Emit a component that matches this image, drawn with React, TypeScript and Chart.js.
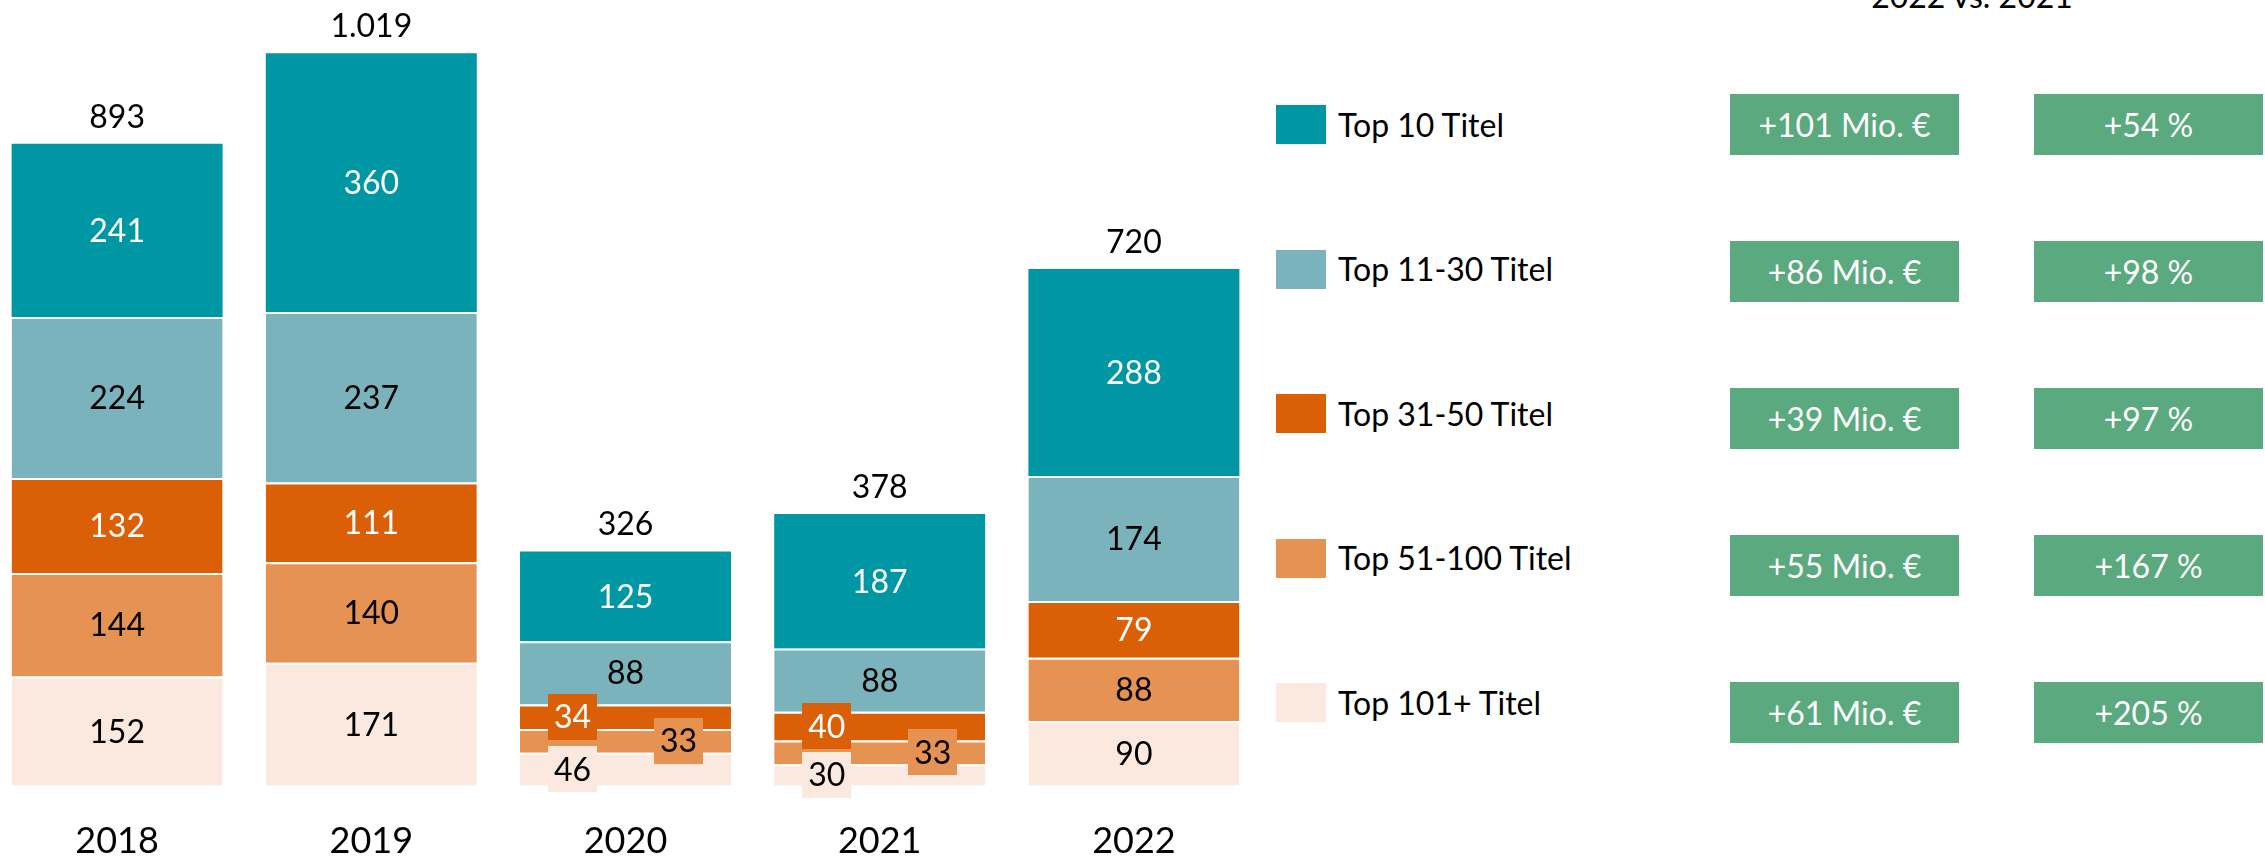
import React, { useEffect, useRef } from "react";
import { Chart, registerables } from "chart.js";

Chart.register(...registerables);

// ---------- data ----------
const years = ["2018", "2019", "2020", "2021", "2022"];
const seriesNames = ["Top 10 Titel", "Top 11-30 Titel", "Top 31-50 Titel", "Top 51-100 Titel", "Top 101+ Titel"];
const top10 = [241, 360, 125, 187, 288];
const top11to30 = [224, 237, 88, 88, 174];
const top31to50 = [132, 111, 34, 40, 79];
const top51to100 = [144, 140, 33, 33, 88];
const top101plus = [152, 171, 46, 30, 90];
const totals = [893, 1019, 326, 378, 720];
const changeTitle = "2022 vs. 2021";
const changeAbs = ["+101 Mio. €", "+86 Mio. €", "+39 Mio. €", "+55 Mio. €", "+61 Mio. €"];
const changePct = ["+54 %", "+98 %", "+97 %", "+167 %", "+205 %"];

// ---------- styles ----------
const seriesValues = [top10, top11to30, top31to50, top51to100, top101plus]; // top-down (legend order)
const COLORS = ["#0097A5", "#7BB3BD", "#DB5F07", "#E69252", "#FBE9DF"];
const LABEL_COLORS = ["#ffffff", "#000000", "#ffffff", "#000000", "#000000"];
const SMALL_SIDE = [0, 0, -1, 1, -1];
const GREEN = "#5BA97E";
const FONT = "Lato, 'Open Sans', sans-serif";
const LEGEND_ROWS = [124.5, 269, 413.5, 558, 702.5];
const BOX_ROWS = [124.5, 271.5, 418.5, 565.5, 712.5];

const formatDE = (n: number) => String(n).replace(/\B(?=(\d{3})+(?!\d))/g, ".");

const labelPlugin = {
  id: "segmentLabels",
  afterDatasetsDraw(chart: any) {
    const ctx = chart.ctx;
    ctx.save();
    ctx.font = `32px ${FONT}`;
    ctx.textAlign = "center";
    ctx.textBaseline = "alphabetic";
    const digitOffset = 0.358 * 32;
    chart.data.datasets.forEach((ds: any, di: number) => {
      const meta = chart.getDatasetMeta(di);
      meta.data.forEach((bar: any, i: number) => {
        const v = ds.data[i];
        const p = bar.getProps(["x", "y", "base"], true);
        const cy = (p.y + p.base) / 2;
        let tx = p.x;
        const txt = String(v);
        if (Math.abs(p.base - p.y) < 40 && ds.smallSide) {
          tx = p.x + ds.smallSide * 53;
          const w = ctx.measureText(txt).width + 12;
          ctx.fillStyle = ds.backgroundColor;
          ctx.fillRect(Math.round(tx - w / 2), Math.round(cy - 23), Math.round(w), 46);
        }
        ctx.fillStyle = ds.labelColor;
        ctx.fillText(txt, tx, cy + digitOffset);
      });
    });
    const lastMeta = chart.getDatasetMeta(chart.data.datasets.length - 1);
    lastMeta.data.forEach((bar: any, i: number) => {
      const p = bar.getProps(["x", "y"], true);
      ctx.fillStyle = "#000";
      ctx.fillText(formatDE(totals[i]), p.x, p.y - 27.5 + digitOffset);
    });
    ctx.restore();
  },
};

function BarChart() {
  const ref = useRef<HTMLCanvasElement | null>(null);
  useEffect(() => {
    if (!ref.current) return;
    const datasets = seriesValues
      .map((vals, k) => ({
        label: seriesNames[k],
        data: vals,
        backgroundColor: COLORS[k],
        borderColor: "#ffffff",
        borderWidth: k === 0 ? 0 : { top: 2, left: 0, right: 0, bottom: 0 },
        borderSkipped: "start",
        labelColor: LABEL_COLORS[k],
        smallSide: SMALL_SIDE[k],
        categoryPercentage: 1,
        barPercentage: 0.83,
      }))
      .reverse();
    const chart = new Chart(ref.current, {
      type: "bar",
      data: { labels: years, datasets: datasets as any },
      options: {
        responsive: false,
        animation: false,
        layout: { padding: 0 },
        plugins: { legend: { display: false }, tooltip: { enabled: false } },
        scales: {
          x: {
            stacked: true,
            grid: { display: false, drawTicks: false },
            border: { display: false },
            ticks: { color: "#000", font: { family: FONT, size: 36 }, padding: 34 },
          },
          y: { stacked: true, display: false, min: 0, max: 1093 },
        },
      },
      plugins: [labelPlugin],
    });
    return () => chart.destroy();
  }, []);
  return (
    <canvas
      ref={ref}
      width={1271}
      height={897}
      style={{ position: "absolute", left: -10, top: 0, width: 1271, height: 897 }}
    />
  );
}

export default function App() {
  return (
    <div
      style={{
        position: "absolute",
        left: 0,
        top: 0,
        width: 2265,
        height: 859,
        overflow: "hidden",
        background: "#fff",
        fontFamily: FONT,
        color: "#000",
      }}
    >
      <BarChart />
      {seriesNames.map((name, k) => (
        <div
          key={name}
          style={{
            position: "absolute",
            left: 1276,
            top: LEGEND_ROWS[k] - 25,
            height: 50,
            display: "flex",
            alignItems: "center",
            whiteSpace: "nowrap",
          }}
        >
          <div style={{ width: 50, height: 39, background: COLORS[k], marginRight: 12 }} />
          <span style={{ fontSize: 32, lineHeight: "38px" }}>{name}</span>
        </div>
      ))}
      <div
        style={{
          position: "absolute",
          left: 1972,
          top: -20,
          transform: "translateX(-50%)",
          fontSize: 32,
          lineHeight: "32px",
          whiteSpace: "nowrap",
        }}
      >
        {changeTitle}
      </div>
      {changeAbs.map((t, k) => (
        <div
          key={"a" + k}
          style={{
            position: "absolute",
            left: 1730,
            top: BOX_ROWS[k] - 30.5,
            width: 229,
            height: 61,
            background: GREEN,
            color: "#fff",
            fontSize: 32,
            display: "flex",
            alignItems: "center",
            justifyContent: "center",
            whiteSpace: "nowrap",
          }}
        >
          {t}
        </div>
      ))}
      {changePct.map((t, k) => (
        <div
          key={"p" + k}
          style={{
            position: "absolute",
            left: 2034,
            top: BOX_ROWS[k] - 30.5,
            width: 229,
            height: 61,
            background: GREEN,
            color: "#fff",
            fontSize: 32,
            display: "flex",
            alignItems: "center",
            justifyContent: "center",
            whiteSpace: "nowrap",
          }}
        >
          {t}
        </div>
      ))}
    </div>
  );
}
